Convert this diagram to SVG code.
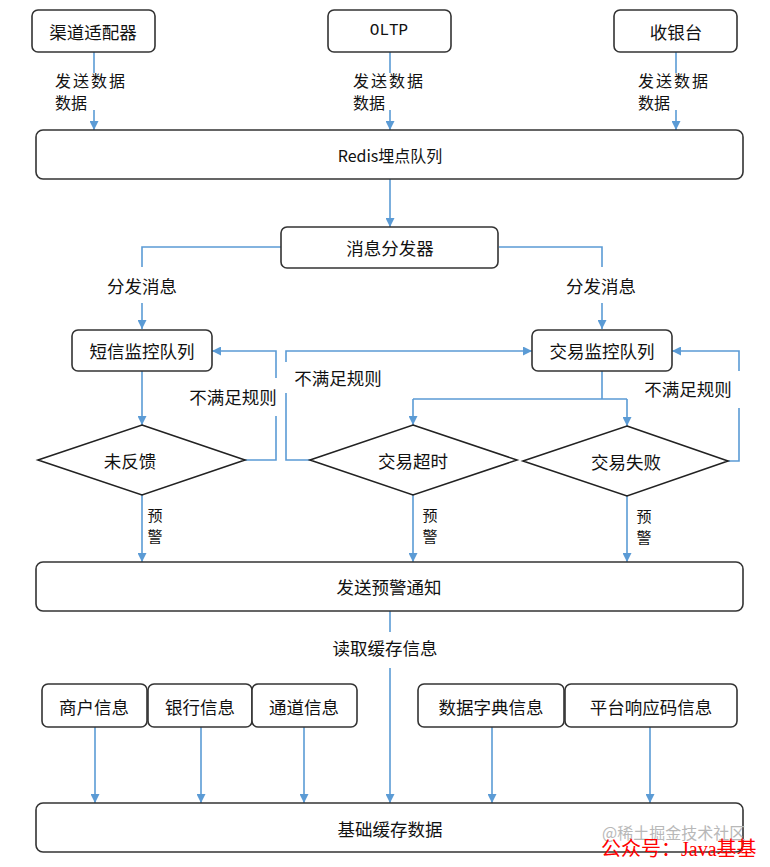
<svg xmlns="http://www.w3.org/2000/svg" width="770" height="867" viewBox="0 0 770 867">
<style>
.box{fill:#fff;stroke:#333;stroke-width:1.6}
.dia{fill:#fff;stroke:#222;stroke-width:1.6}
.t{font-family:"Noto Sans CJK SC","Noto Sans",sans-serif;font-size:17.5px;fill:#111;text-anchor:middle;dominant-baseline:central}
.l{font-family:"Noto Sans CJK SC","Noto Sans",sans-serif;font-size:16px;fill:#111;dominant-baseline:central}
.v{font-family:"Noto Sans CJK SC","Noto Sans",sans-serif;font-size:15px;fill:#111;text-anchor:middle}
.mono{font-family:"Liberation Mono",monospace;font-size:16px;fill:#111;text-anchor:middle;dominant-baseline:central}
.c{fill:none;stroke:#5b9bd5;stroke-width:1.6}
.a{marker-end:url(#arr)}
</style>
<defs>
<marker id="arr" markerUnits="userSpaceOnUse" markerWidth="9" markerHeight="9" refX="9" refY="4.5" orient="auto">
<path d="M0,0 L9,4.5 L0,9 z" fill="#5b9bd5"/>
</marker>
</defs>
<rect width="770" height="867" fill="#fff"/>

<g id="connectors">
<path class="c" d="M94 52 V73"/><path class="c a" d="M94 110 V130"/>
<path class="c" d="M390 52 V73"/><path class="c a" d="M390 110 V130"/>
<path class="c" d="M676 52 V73"/><path class="c a" d="M676 110 V130"/>
<path class="c a" d="M390 179 V227"/>
<path class="c" d="M281 247 H142 V267"/><path class="c a" d="M142 303 V329"/>
<path class="c" d="M499 247 H602 V267"/><path class="c a" d="M602 303 V329"/>
<path class="c a" d="M142 371 V425"/>
<path class="c" d="M245 460 H276 V416"/><path class="c a" d="M276 378 V351 H212"/>
<path class="c" d="M310 460 H286 V393"/><path class="c a" d="M286 362 V351 H532"/>
<path class="c" d="M602 371 V399 M413 399 H627"/>
<path class="c a" d="M413 399 V425"/><path class="c a" d="M627 399 V426"/>
<path class="c" d="M728 461 H739 V408"/><path class="c a" d="M739 371 V351 H672"/>
<path class="c a" d="M142 495 V562"/>
<path class="c a" d="M413 495 V562"/>
<path class="c a" d="M627 496 V562"/>
<path class="c" d="M390 611 V632"/><path class="c a" d="M390 668 V803"/>
<path class="c a" d="M95 727 V803"/>
<path class="c a" d="M201 727 V803"/>
<path class="c a" d="M304 727 V803"/>
<path class="c a" d="M492 727 V803"/>
<path class="c a" d="M650 727 V803"/>
</g>

<g id="labels">
<text class="l" x="55" y="80" letter-spacing="2">发送数据</text>
<text class="l" x="55" y="102">数据</text>
<text class="l" x="353" y="80" letter-spacing="2">发送数据</text>
<text class="l" x="353" y="102">数据</text>
<text class="l" x="638" y="80" letter-spacing="2">发送数据</text>
<text class="l" x="638" y="102">数据</text>
<text class="t" x="142" y="285">分发消息</text>
<text class="t" x="601" y="285">分发消息</text>
<text class="t" x="233" y="396">不满足规则</text>
<text class="t" x="338" y="377">不满足规则</text>
<text class="t" x="688" y="388">不满足规则</text>
<text class="v" x="155" y="521">预</text>
<text class="v" x="155" y="542">警</text>
<text class="v" x="430" y="521">预</text>
<text class="v" x="430" y="542">警</text>
<text class="v" x="644" y="522">预</text>
<text class="v" x="644" y="543">警</text>
<text class="t" x="385" y="647">读取缓存信息</text>
</g>

<g id="n-qudao"><rect class="box" x="32" y="10" width="123" height="42" rx="6"/><text class="t" x="93" y="31">渠道适配器</text></g>
<g id="n-oltp"><rect class="box" x="328" y="10" width="123" height="42" rx="6"/><text class="mono" x="389" y="31">OLTP</text></g>
<g id="n-shouyin"><rect class="box" x="614" y="10" width="123" height="42" rx="6"/><text class="t" x="676" y="31">收银台</text></g>
<g id="n-redis"><rect class="box" x="36" y="130" width="707" height="49" rx="7"/><text class="t" x="390" y="155" style="font-size:16px">Redis埋点队列</text></g>
<g id="n-fenfa"><rect class="box" x="281" y="227" width="217" height="41" rx="6"/><text class="t" x="390" y="247">消息分发器</text></g>
<g id="n-sms"><rect class="box" x="72" y="330" width="140" height="41" rx="6"/><text class="t" x="142" y="350">短信监控队列</text></g>
<g id="n-trade"><rect class="box" x="532" y="330" width="140" height="41" rx="6"/><text class="t" x="602" y="350">交易监控队列</text></g>
<g id="n-weifankui"><polygon class="dia" points="142,425 245,460 142,495 38,460"/><text class="t" x="130" y="460">未反馈</text></g>
<g id="n-chaoshi"><polygon class="dia" points="413,425 517,460 413,495 310,460"/><text class="t" x="413" y="460">交易超时</text></g>
<g id="n-shibai"><polygon class="dia" points="627,426 728,461 627,496 523,461"/><text class="t" x="626" y="461">交易失败</text></g>
<g id="n-yujing"><rect class="box" x="36" y="562" width="707" height="49" rx="7"/><text class="t" x="389" y="586">发送预警通知</text></g>
<g id="n-shanghu"><rect class="box" x="42" y="684" width="105" height="43" rx="6"/><text class="t" x="94" y="706">商户信息</text></g>
<g id="n-yinhang"><rect class="box" x="148" y="684" width="104" height="43" rx="6"/><text class="t" x="200" y="706">银行信息</text></g>
<g id="n-tongdao"><rect class="box" x="252" y="684" width="105" height="43" rx="6"/><text class="t" x="304" y="706">通道信息</text></g>
<g id="n-zidian"><rect class="box" x="418" y="684" width="146" height="43" rx="6"/><text class="t" x="491" y="706">数据字典信息</text></g>
<g id="n-xiangying"><rect class="box" x="565" y="684" width="172" height="43" rx="6"/><text class="t" x="651" y="706">平台响应码信息</text></g>
<g id="n-jichu"><rect class="box" x="36" y="803" width="707" height="49" rx="7"/><text class="t" x="390" y="828">基础缓存数据</text></g>

<g id="watermark">
<text x="602" y="832" style="font-family:'Noto Sans CJK SC',sans-serif;font-size:16px;fill:#b8b8b8;dominant-baseline:central">@稀土掘金技术社区</text>
<text x="601" y="849" style="font-family:'Liberation Serif','Noto Sans CJK SC',serif;font-size:20px;fill:#ff0000;dominant-baseline:central">公众号：Java基基</text>
</g>
</svg>
